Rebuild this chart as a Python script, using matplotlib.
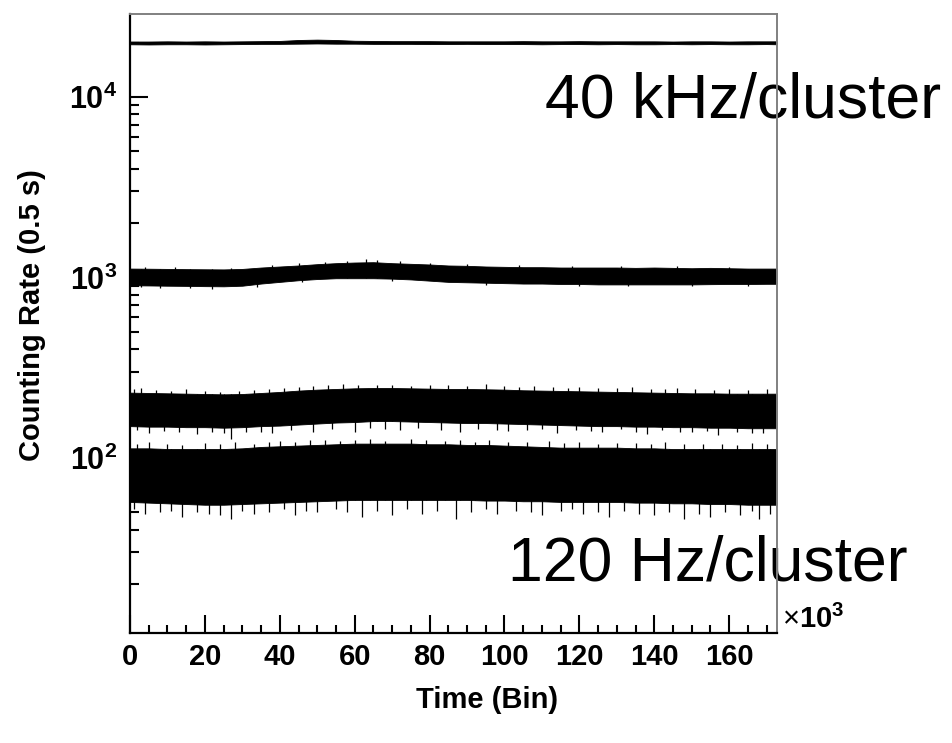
import matplotlib
matplotlib.use("Agg")
import matplotlib.pyplot as plt
from matplotlib.ticker import LogLocator, MultipleLocator, FixedLocator, NullFormatter

plt.rcParams['font.family'] = ['Liberation Sans', 'DejaVu Sans']
plt.rcParams['mathtext.fontset'] = 'custom'
plt.rcParams['mathtext.rm'] = 'Liberation Sans'
plt.rcParams['mathtext.bf'] = 'Liberation Sans:bold'

# time bins (x 10^3), sampled every 5k bins, last point = end of run
time_k = [0, 5, 10, 15, 20, 25, 30, 35, 40, 45, 50, 55, 60, 65, 70, 75, 80, 85,
          90, 95, 100, 105, 110, 115, 120, 125, 130, 135, 140, 145, 150, 155,
          160, 165, 170, 172.8]

# 40 kHz/cluster band
band1_hi = [20300, 20300, 20350, 20300, 20350, 20300, 20350, 20400, 20450, 20700,
            20800, 20700, 20500, 20450, 20400, 20400, 20400, 20350, 20350, 20350,
            20350, 20400, 20350, 20350, 20400, 20350, 20350, 20350, 20350, 20300,
            20350, 20350, 20300, 20350, 20350, 20350]
band1_lo = [19600, 19550, 19600, 19600, 19550, 19600, 19650, 19700, 19700, 19750,
            19800, 19750, 19750, 19700, 19700, 19700, 19650, 19650, 19700, 19650,
            19650, 19650, 19600, 19650, 19650, 19600, 19650, 19600, 19600, 19650,
            19600, 19650, 19600, 19600, 19650, 19600]

# ~1 kHz band
band2_hi = [1120, 1118, 1115, 1112, 1110, 1108, 1115, 1135, 1150, 1165, 1185, 1200,
            1210, 1215, 1200, 1190, 1180, 1165, 1160, 1150, 1145, 1140, 1140, 1135,
            1135, 1135, 1135, 1130, 1135, 1130, 1125, 1130, 1125, 1120, 1120, 1120]
band2_lo = [905, 903, 900, 898, 895, 893, 900, 925, 945, 965, 980, 990, 990, 990,
            985, 975, 960, 945, 940, 935, 930, 925, 925, 920, 920, 915, 915, 915,
            915, 915, 915, 918, 920, 920, 922, 922]

# ~200 Hz band
band3_hi = [230, 229, 228, 227, 226, 225, 226, 229, 232, 236, 239, 241, 243, 244,
            244, 243, 242, 241, 241, 240, 239, 237, 236, 235, 234, 233, 232, 231,
            230, 229, 228, 228, 227, 227, 227, 227]
band3_lo = [150, 149, 149, 148, 148, 147, 148, 150, 151, 153, 155, 157, 158, 160,
            160, 159, 158, 157, 156, 156, 155, 154, 153, 152, 151, 150, 150, 149,
            149, 148, 148, 147, 147, 146, 146, 146]

# 120 Hz/cluster band
band4_hi = [113, 113, 112, 112, 112, 112, 113, 115, 116, 117, 118, 119, 120, 120,
            120, 120, 119, 119, 118, 118, 117, 116, 115, 114, 114, 114, 114, 113,
            113, 112, 112, 112, 112, 112, 112, 112]
band4_lo = [57, 56.5, 56, 55.5, 55, 55, 55.5, 56, 56.5, 57, 57.5, 58, 58.5, 58.5,
            58.5, 58.5, 58.5, 58.5, 58.5, 58, 58, 57.5, 57.5, 57, 57, 57, 57, 56.5,
            56.5, 56, 56, 55.5, 55.5, 55, 55, 55]

# single-bin fluctuations sticking out of the bands (x in 10^3 bins, value)
spk2_up_x = [4, 12, 27, 38, 45, 52, 58, 63, 66, 72, 80, 90, 104, 118, 131, 146, 160]
spk2_up_y = [1150, 1140, 1130, 1170, 1200, 1225, 1235, 1265, 1245, 1230, 1210,
             1185, 1170, 1160, 1160, 1155, 1150]
spk2_dn_x = [3, 8, 16, 22, 34, 46, 70, 95, 120, 133, 150, 165]
spk2_dn_y = [880, 870, 872, 860, 890, 945, 960, 910, 895, 893, 895, 900]

spk3_up_x = [1, 3, 7, 11, 15, 20, 24, 29, 33, 37, 41, 45, 49, 53, 57, 61, 66, 70,
             75, 80, 85, 90, 95, 100, 104, 108, 113, 117, 120, 125, 130, 134, 139,
             143, 146, 151, 156, 160, 165, 170]
spk3_up_y = [240, 245, 238, 236, 240, 234, 232, 236, 238, 240, 243, 248, 250, 252,
             258, 254, 255, 253, 251, 254, 252, 250, 258, 249, 247, 250, 246, 245,
             248, 243, 244, 246, 241, 240, 244, 240, 239, 242, 238, 240]
spk3_dn_x = [2, 5, 9, 13, 18, 22, 25, 27, 31, 35, 38, 43, 49, 54, 60, 64, 68, 72,
             77, 83, 88, 93, 98, 101, 106, 110, 114, 119, 123, 126, 131, 135, 138,
             142, 147, 150, 154, 157, 162, 166, 169]
spk3_dn_y = [142, 138, 141, 139, 136, 140, 137, 128, 139, 140, 137, 142, 139, 145,
             140, 146, 144, 142, 146, 143, 139, 144, 142, 141, 143, 145, 137, 143,
             141, 140, 144, 139, 136, 142, 140, 139, 141, 134, 140, 138, 137]

spk4_up_x = [2, 5, 10, 14, 20, 24, 28, 33, 37, 40, 44, 48, 52, 56, 60, 64, 68, 75,
             79, 84, 88, 92, 96, 101, 106, 112, 116, 120, 125, 130, 135, 139, 143,
             148, 153, 158, 162, 166, 170]
spk4_up_y = [120, 122, 120, 118, 121, 119, 123, 120, 122, 124, 122, 125, 126, 124,
             125, 127, 124, 127, 125, 124, 126, 123, 125, 123, 122, 124, 121, 122,
             120, 121, 121, 119, 123, 120, 119, 120, 118, 121, 119]
spk4_dn_x = [1, 4, 8, 11, 14, 18, 21, 24, 27, 30, 33, 37, 41, 44, 47, 50, 55, 58,
             62, 66, 70, 74, 78, 82, 87, 91, 95, 98, 103, 107, 110, 115, 118, 121,
             125, 128, 132, 136, 140, 144, 148, 152, 155, 159, 163, 166, 168, 171]
spk4_dn_y = [52, 49, 50, 51, 47, 50, 49, 48, 46, 51, 49, 50, 52, 48, 51, 50, 52,
             50, 47, 51, 48, 52, 49, 51, 46, 50, 52, 49, 51, 50, 48, 51, 52, 49,
             50, 47, 51, 49, 48, 50, 46, 49, 47, 50, 48, 51, 46, 49]

x = [t * 1000 for t in time_k]

fig = plt.figure(figsize=(9.53, 7.43), dpi=100)
ax = fig.add_axes([0.1364, 0.148, 0.679, 0.833])

bands = [(band1_lo, band1_hi), (band2_lo, band2_hi),
         (band3_lo, band3_hi), (band4_lo, band4_hi)]
for lo, hi in bands:
    ax.fill_between(x, lo, hi, color='black', lw=0.6, zorder=2)


def spikes(xs, ys, start):
    # spikes start inside the band and reach out to the recorded value
    ax.vlines([xi * 1000 for xi in xs], [start] * len(xs), ys,
              color='black', lw=0.9, zorder=2)


spikes(spk2_up_x, spk2_up_y, max(band2_lo))
spikes(spk2_dn_x, spk2_dn_y, min(band2_hi))
spikes(spk3_up_x, spk3_up_y, max(band3_lo))
spikes(spk3_dn_x, spk3_dn_y, min(band3_hi))
spikes(spk4_up_x, spk4_up_y, max(band4_lo))
spikes(spk4_dn_x, spk4_dn_y, min(band4_hi))

ax.set_yscale('log')
ax.set_xlim(0, 172800)
ax.set_ylim(10.7, 28800)

# ROOT style frame
for side in ['left', 'bottom']:
    ax.spines[side].set_linewidth(1.6)
    ax.spines[side].set_color('black')
for side in ['top', 'right']:
    ax.spines[side].set_linewidth(1.4)
    ax.spines[side].set_color('#808080')

xt = list(range(0, 170000, 20000))
ax.set_xticks(xt)
ax.set_xticklabels([str(v // 1000) for v in xt], fontweight='bold', fontsize=21)
ax.xaxis.set_minor_locator(MultipleLocator(5000))

ax.yaxis.set_major_locator(FixedLocator([100, 1000, 10000]))
ax.yaxis.set_minor_locator(LogLocator(base=10, subs=range(2, 10)))
ax.yaxis.set_minor_formatter(NullFormatter())
ax.set_yticklabels([r'$\mathbf{10^{2}}$', r'$\mathbf{10^{3}}$', r'$\mathbf{10^{4}}$'],
                   fontsize=22)

ax.tick_params(which='both', direction='in', top=False, right=False, width=1.5)
ax.tick_params(axis='x', which='major', length=13, pad=7)
ax.tick_params(axis='x', which='minor', length=6)
ax.tick_params(axis='y', which='major', length=13, pad=9)
ax.tick_params(axis='y', which='minor', length=6.5)

fig.text(0.821, 0.147, r'$\times\mathbf{10^{3}}$', fontsize=21,
         va='bottom', ha='left')

fig.text(0.511, 0.058, 'Time (Bin)', fontsize=21, fontweight='bold',
         ha='center', va='center')
fig.text(0.034, 0.576, 'Counting Rate (0.5 s)', fontsize=21, fontweight='bold',
         rotation=90, ha='center', va='center')

ax.text(0.572, 0.8425, '40 kHz/cluster', fontsize=45, transform=fig.transFigure,
        ha='left', va='baseline', clip_on=False, zorder=1)
ax.text(0.533, 0.219, '120 Hz/cluster', fontsize=45, transform=fig.transFigure,
        ha='left', va='baseline', clip_on=False, zorder=1)

fig.savefig('out.png', dpi=100)
